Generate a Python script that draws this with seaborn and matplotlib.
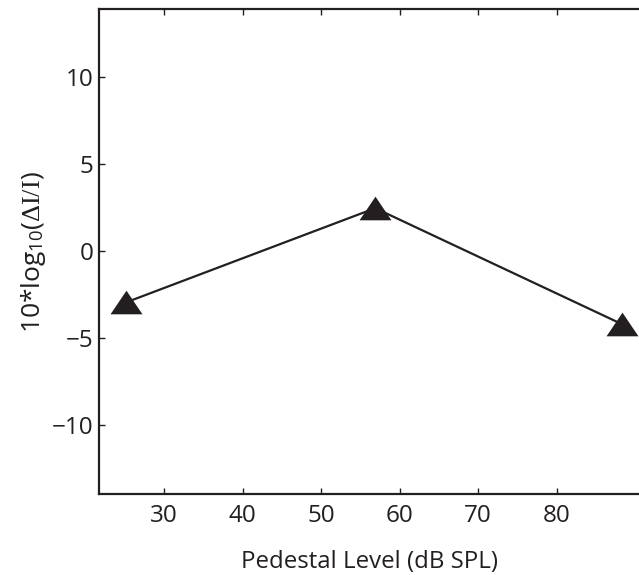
import matplotlib
matplotlib.use("Agg")
import matplotlib.pyplot as plt
import seaborn as sns
import pandas as pd

# Data
pedestal_level = [25.2, 56.9, 88.3]
threshold_db = [-2.95, 2.45, -4.2]

x_ticks = [30, 40, 50, 60, 70, 80]
y_ticks = [-10, -5, 0, 5, 10]

df = pd.DataFrame({"level": pedestal_level, "thr": threshold_db})

sns.set_theme(style="white")
plt.rcParams["font.family"] = ["Open Sans", "DejaVu Sans"]
plt.rcParams["mathtext.fontset"] = "custom"
plt.rcParams["mathtext.rm"] = "Liberation Serif"
plt.rcParams["mathtext.it"] = "Liberation Serif:italic"
plt.rcParams["mathtext.sf"] = "Open Sans"

ink = "#231f20"

fig = plt.figure(figsize=(6.39, 5.75), dpi=100)
ax = fig.add_axes([0.1554, 0.1409, 0.8446, 0.8429])

tri = [(-1, -0.74), (1, -0.74), (0, 0.74), (-1, -0.74)]
sns.lineplot(data=df, x="level", y="thr", ax=ax, color=ink, linewidth=1.6,
             marker=tri, markersize=23, markerfacecolor=ink,
             markeredgecolor=ink, markeredgewidth=0)

ax.set_xlim(21.76, 90.5)
ax.set_ylim(-13.95, 13.86)
ax.set_xticks(x_ticks)
ax.set_yticks(y_ticks)
ax.set_yticklabels([("\u2212" + str(-v)) if v < 0 else str(v) for v in y_ticks])

for s in ["left", "bottom", "top"]:
    ax.spines[s].set_visible(True)
    ax.spines[s].set_color(ink)
    ax.spines[s].set_linewidth(1.6)
ax.spines["right"].set_visible(False)

ax.tick_params(direction="in", length=4.5, width=1.0, color=ink,
               labelsize=17.5, labelcolor=ink, top=True, right=False,
               bottom=True, left=True)
ax.tick_params(axis="x", pad=7)
ax.tick_params(axis="y", pad=4)

ax.set_xlabel("Pedestal Level (dB SPL)", fontsize=17.3, color=ink, labelpad=16)
ax.set_ylabel("10*log$_{\\mathsf{10}}$($\\Delta\\mathrm{I/I}$)", fontsize=19,
              color=ink, labelpad=3)

fig.savefig("out.png", dpi=100)
